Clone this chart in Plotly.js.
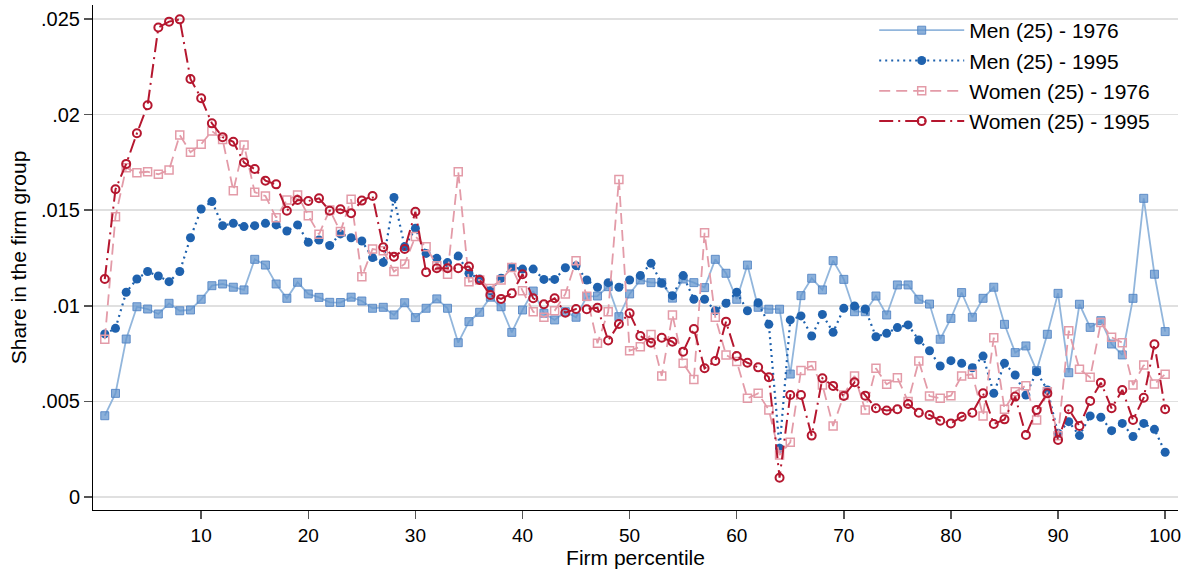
<!DOCTYPE html>
<html>
<head>
<meta charset="utf-8">
<script src="https://cdn.plot.ly/plotly-3.0.1.min.js"></script>
<style>html,body{margin:0;padding:0;background:#fff;}#chart{width:1188px;height:569px;}</style>
</head>
<body>
<div id="chart"></div>
<script>
const percentile = [1,2,3,4,5,6,7,8,9,10,11,12,13,14,15,16,17,18,19,20,21,22,23,24,25,26,27,28,29,30,31,32,33,34,35,36,37,38,39,40,41,42,43,44,45,46,47,48,49,50,51,52,53,54,55,56,57,58,59,60,61,62,63,64,65,66,67,68,69,70,71,72,73,74,75,76,77,78,79,80,81,82,83,84,85,86,87,88,89,90,91,92,93,94,95,96,97,98,99,100];

const men1976 = [0.00425,0.00542,0.00826,0.00995,0.00983,0.00957,0.01013,0.00974,0.00978,0.01034,
0.01105,0.01114,0.01097,0.01083,0.01243,0.01213,0.01114,0.01039,0.01123,0.01062,
0.01044,0.01018,0.01017,0.01045,0.01025,0.00987,0.00992,0.00952,0.01016,0.00938,
0.00987,0.01036,0.00987,0.00807,0.00917,0.00966,0.01045,0.00995,0.00861,0.00978,
0.01077,0.00961,0.00926,0.00969,0.0094,0.01048,0.01051,0.0110,0.00943,0.01062,
0.01135,0.01121,0.01121,0.0104,0.0114,0.01121,0.01095,0.01243,0.0117,0.01034,
0.01213,0.00992,0.00982,0.00982,0.00643,0.01053,0.01144,0.01083,0.01236,0.01138,
0.00969,0.00969,0.01051,0.00952,0.01109,0.01109,0.01034,0.01009,0.00825,0.00934,
0.01069,0.0094,0.01039,0.01097,0.00903,0.00755,0.0079,0.00661,0.00851,0.01065,
0.0065,0.01008,0.00887,0.00922,0.008,0.00743,0.01039,0.01562,0.01165,0.00865];

const men1995 = [0.00853,0.00882,0.01071,0.0114,0.01179,0.01156,0.01126,0.01179,0.01356,0.01506,
0.01545,0.01419,0.01431,0.01414,0.01419,0.01431,0.01423,0.01391,0.01423,0.01332,
0.01344,0.01315,0.01376,0.01356,0.01339,0.01252,0.01227,0.01566,0.01309,0.01405,
0.01274,0.01248,0.01226,0.0126,0.0117,0.0114,0.01079,0.01144,0.01201,0.01192,
0.01192,0.01138,0.01138,0.01199,0.0121,0.01135,0.01097,0.01121,0.01097,0.01135,
0.01158,0.01222,0.01118,0.01053,0.01158,0.01034,0.01034,0.00974,0.01013,0.01071,
0.00974,0.01016,0.00903,0.00255,0.00926,0.00947,0.00842,0.00955,0.00861,0.00987,
0.00999,0.00983,0.00838,0.00856,0.00886,0.009,0.00821,0.00765,0.00685,0.00713,
0.00699,0.00676,0.00737,0.00542,0.00699,0.00638,0.00533,0.00655,0.0056,0.00333,
0.00394,0.00321,0.00424,0.00417,0.00347,0.00385,0.00316,0.00385,0.00354,0.00234];

const women1976 = [0.00825,0.01466,0.01722,0.01696,0.01701,0.01688,0.0171,0.01893,0.01803,0.01845,
0.01914,0.0187,0.01602,0.01841,0.01594,0.01574,0.01461,0.01553,0.0158,0.01471,
0.01374,0.01501,0.01388,0.01557,0.01152,0.01297,0.01288,0.01179,0.01219,0.01362,
0.01309,0.0121,0.01165,0.01701,0.01126,0.01135,0.01091,0.01135,0.0120,0.01079,
0.00969,0.0094,0.00974,0.01062,0.01236,0.0105,0.00804,0.00969,0.01661,0.00765,
0.00786,0.0085,0.00633,0.00952,0.00699,0.00615,0.01382,0.0094,0.00743,0.00708,
0.00516,0.00542,0.00455,0.0022,0.00286,0.00661,0.00687,0.00586,0.00371,0.00533,
0.00633,0.00455,0.00673,0.00589,0.00624,0.00499,0.00711,0.00528,0.00516,0.0053,
0.00633,0.00642,0.00424,0.00833,0.00459,0.00551,0.00582,0.00403,0.0055,0.0032,
0.0087,0.00668,0.00626,0.00912,0.00835,0.00807,0.00586,0.0069,0.00591,0.00642];

const women1995 = [0.0114,0.01609,0.01742,0.01902,0.02049,0.02455,0.02486,0.02498,0.02186,0.02085,
0.01954,0.01882,0.01858,0.01749,0.01715,0.01654,0.01635,0.01497,0.01553,0.01548,
0.01562,0.01497,0.01505,0.01484,0.0155,0.01574,0.01306,0.01257,0.01297,0.01492,
0.01175,0.01196,0.01196,0.01196,0.01205,0.01135,0.01056,0.01036,0.01065,0.01165,
0.01039,0.01008,0.01039,0.00964,0.00983,0.00982,0.0099,0.00818,0.00905,0.00961,
0.00842,0.00807,0.00833,0.00812,0.0076,0.00879,0.00673,0.00711,0.00917,0.00737,
0.00702,0.00678,0.00626,0.00101,0.00533,0.00533,0.00321,0.00621,0.00581,0.00528,
0.006,0.0053,0.00464,0.00452,0.00459,0.00486,0.00441,0.00429,0.00399,0.00385,
0.0042,0.00441,0.00542,0.00382,0.00406,0.00525,0.00324,0.00455,0.00542,0.00298,
0.00459,0.00371,0.00502,0.00598,0.00464,0.0056,0.00403,0.00519,0.00799,0.00459];

const seriesNames = ["Men (25) - 1976","Men (25) - 1995","Women (25) - 1976","Women (25) - 1995"];
const yTickVals = [0,0.005,0.01,0.015,0.02,0.025];
const yTickText = ["0",".005",".01",".015",".02",".025"];
const xTickVals = [10,20,30,40,50,60,70,80,90,100];

const traces = [
  {x: percentile, y: men1976, name: seriesNames[0], legendgroup: 'a', type: 'scatter', mode: 'lines+markers',
   line: {color: 'rgba(140,178,218,0.95)', width: 1.8},
   marker: {symbol: 'square', size: 8, color: 'rgba(100,150,205,0.75)', line: {color: 'rgba(80,130,195,0.85)', width: 1}}},
  {x: percentile, y: men1995, name: seriesNames[1], legendgroup: 'b', type: 'scatter', mode: 'lines+markers',
   line: {color: '#1f62ae', width: 2.2, dash: '2px,4px'},
   marker: {symbol: 'circle', size: 9, color: '#1f62ae'}},
  {x: percentile, y: women1976, name: seriesNames[2], legendgroup: 'c', type: 'scatter', mode: 'lines+markers',
   line: {color: '#e39ba8', width: 1.8, dash: '11px,6px'},
   marker: {symbol: 'square-open', size: 8, color: '#e39ba8', line: {width: 1.5}}},
  {x: percentile, y: women1995, name: seriesNames[3], legendgroup: 'd', type: 'scatter', mode: 'lines+markers',
   line: {color: '#b5172f', width: 2, dash: '14px,5px,2px,5px'},
   marker: {symbol: 'circle-open', size: 8, color: '#b5172f', line: {width: 2}}}
];

const layout = {
  width: 1188, height: 569,
  margin: {l: 93, r: 10, t: 5, b: 59},
  paper_bgcolor: '#fff', plot_bgcolor: '#fff',
  font: {family: 'Liberation Sans, Arial, sans-serif', size: 19, color: '#000'},
  showlegend: true,
  legend: {x: 0.72, y: 0.99, xanchor: 'left', yanchor: 'top', bgcolor: 'rgba(0,0,0,0)',
    font: {size: 21}, tracegroupgap: 0, itemwidth: 85},
  xaxis: {range: [-0.1, 101.2], tickvals: xTickVals, ticks: 'outside', ticklen: 8, tickwidth: 1.5, tickcolor: '#555',
    showgrid: false, zeroline: false, showline: true, linecolor: '#000', linewidth: 1, mirror: false,
    tickfont: {size: 19}, title: {text: 'Firm percentile', font: {size: 21}, standoff: 2}},
  yaxis: {range: [-0.00068, 0.02573], tickvals: yTickVals, ticktext: yTickText, ticks: 'outside', ticklen: 8,
    tickwidth: 1.5, tickcolor: '#555', showgrid: true, gridcolor: '#e0e0e0', gridwidth: 1.5, zeroline: false,
    showline: true, linecolor: '#000', linewidth: 1, tickfont: {size: 20},
    title: {text: 'Share in the firm group', font: {size: 21}, standoff: 8}}
};

Plotly.newPlot('chart', traces, layout, {staticPlot: true, displayModeBar: false});
</script>
</body>
</html>
